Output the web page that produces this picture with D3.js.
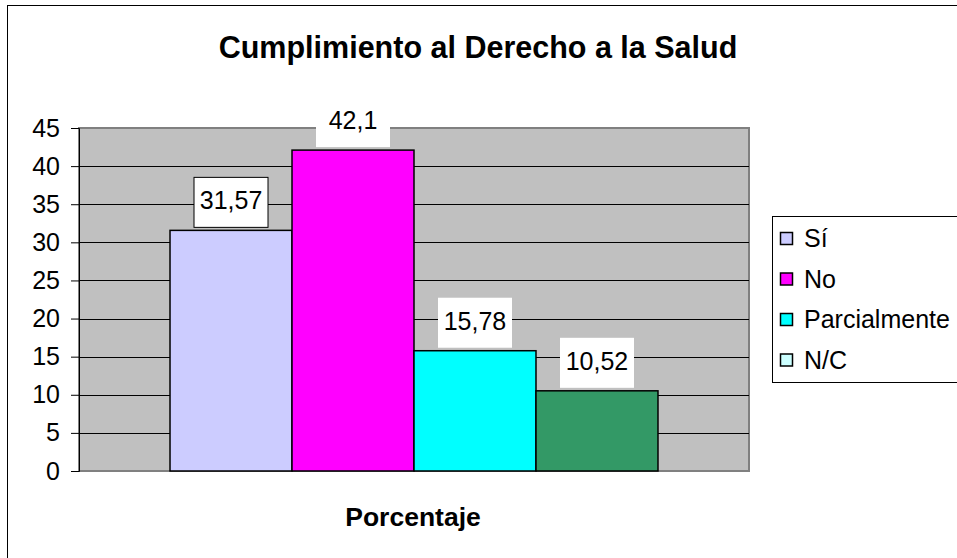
<!DOCTYPE html>
<html>
<head>
<meta charset="utf-8">
<script src="https://cdn.jsdelivr.net/npm/d3@7"></script>
<style>
    body { margin: 0; background: #fff; }
    text { font-family: "Liberation Sans", Arial, sans-serif; }
</style>
</head>
<body>
<div id="chart"></div>
<script>
// Chart data
var categories = ["Sí", "No", "Parcialmente", "N/C"];
var values = [31.57, 42.1, 15.78, 10.52];
var valueLabels = ["31,57", "42,1", "15,78", "10,52"];
var barColors = ["#ccccff", "#ff00ff", "#00ffff", "#339966"];
var legendColors = ["#ccccff", "#ff00ff", "#00ffff", "#ccffff"];
var yTicks = [0, 5, 10, 15, 20, 25, 30, 35, 40, 45];

function init() {
    var w = 957;
    var h = 558;

    var svg = d3.select("#chart")
        .append("svg")
        .attr("width", w)
        .attr("height", h);

    // outer chart border (runs off the right/bottom edge)
    svg.append("rect")
        .attr("x", 7.5).attr("y", 5.5)
        .attr("width", 1000).attr("height", 600)
        .attr("fill", "#fff")
        .attr("stroke", "#000")
        .attr("stroke-width", 1);

    // plot area
    var left = 79, right = 749, top = 128, bottom = 471;

    var x = d3.scaleBand()
        .domain(categories)
        .range([left, right])
        .paddingInner(0)
        .paddingOuter(0.746);

    var y = d3.scaleLinear()
        .domain([0, 45])
        .range([bottom, top]);

    svg.append("rect")
        .attr("x", left).attr("y", top)
        .attr("width", right - left).attr("height", bottom - top)
        .attr("fill", "#c0c0c0")
        .attr("stroke", "#808080")
        .attr("stroke-width", 2);

    // gridlines
    svg.selectAll(".grid")
        .data(yTicks.filter(d => d > 0 && d < 45))
        .enter()
        .append("line")
        .attr("class", "grid")
        .attr("x1", left).attr("x2", right)
        .attr("y1", d => Math.round(y(d)) + 0.5)
        .attr("y2", d => Math.round(y(d)) + 0.5)
        .attr("stroke", "#000")
        .attr("stroke-width", 1);

    // y axis
    var yAxis = d3.axisLeft(y)
        .tickValues(yTicks)
        .tickSize(8)
        .tickPadding(11);

    var ag = svg.append("g")
        .attr("transform", "translate(" + left + ",0)")
        .call(yAxis);
    ag.select(".domain").attr("stroke", "#000");
    ag.selectAll(".tick line").attr("stroke", "#000");
    ag.selectAll(".tick text")
        .attr("fill", "#000")
        .style("font-size", "25px")
        .style("font-family", "'Liberation Sans', Arial, sans-serif");

    // bars
    svg.selectAll(".bar")
        .data(values)
        .enter()
        .append("rect")
        .attr("class", "bar")
        .attr("x", (d, i) => x(categories[i]))
        .attr("y", d => y(d))
        .attr("width", x.bandwidth())
        .attr("height", d => y(0) - y(d))
        .attr("fill", (d, i) => barColors[i])
        .attr("stroke", "#000")
        .attr("stroke-width", 1.5);

    // data labels
    var lab = svg.selectAll(".lab")
        .data(values)
        .enter()
        .append("g")
        .attr("class", "lab")
        .attr("transform", (d, i) => "translate(" + (x(categories[i]) + x.bandwidth() / 2) + "," + (y(d) - 3) + ")");

    lab.append("rect")
        .attr("x", -37).attr("y", -50)
        .attr("width", 74).attr("height", 50)
        .attr("fill", "#fff")
        .attr("stroke", (d, i) => i === 0 ? "#000" : "none")
        .attr("stroke-width", 1);

    lab.append("text")
        .attr("text-anchor", "middle")
        .attr("y", -18)
        .style("font-size", "25px")
        .text((d, i) => valueLabels[i]);

    // title
    svg.append("text")
        .attr("x", 478).attr("y", 58)
        .attr("text-anchor", "middle")
        .style("font-size", "30.5px")
        .style("font-weight", "bold")
        .text("Cumplimiento al Derecho a la Salud");

    // axis title
    svg.append("text")
        .attr("x", 413).attr("y", 526)
        .attr("text-anchor", "middle")
        .style("font-size", "26.5px")
        .style("font-weight", "bold")
        .text("Porcentaje");

    // legend
    var lg = svg.append("g");
    lg.append("rect")
        .attr("x", 772.5).attr("y", 216.5)
        .attr("width", 250).attr("height", 166)
        .attr("fill", "#fff")
        .attr("stroke", "#000")
        .attr("stroke-width", 1);

    var item = lg.selectAll(".item")
        .data(categories)
        .enter()
        .append("g")
        .attr("class", "item")
        .attr("transform", (d, i) => "translate(780," + (238.5 + i * 40.5) + ")");

    item.append("rect")
        .attr("x", 0.5).attr("y", -6)
        .attr("width", 12).attr("height", 12)
        .attr("fill", (d, i) => legendColors[i])
        .attr("stroke", "#000")
        .attr("stroke-width", 1.5);

    item.append("text")
        .attr("x", 24).attr("y", 8.5)
        .style("font-size", "25px")
        .text(d => d);
}

window.onload = init;
</script>
</body>
</html>
